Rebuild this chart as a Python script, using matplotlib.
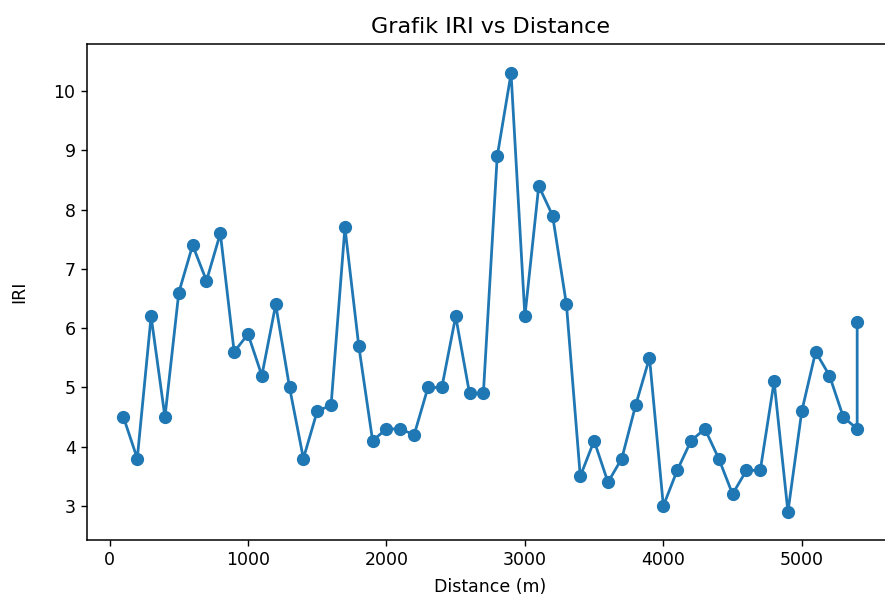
import matplotlib
matplotlib.use('Agg')
import matplotlib.pyplot as plt

# jarak tiap titik pengukuran (m), titik terakhir diukur dua kali di 5400
distance = [100, 200, 300, 400, 500, 600, 700, 800, 900, 1000,
            1100, 1200, 1300, 1400, 1500, 1600, 1700, 1800, 1900, 2000,
            2100, 2200, 2300, 2400, 2500, 2600, 2700, 2800, 2900, 3000,
            3100, 3200, 3300, 3400, 3500, 3600, 3700, 3800, 3900, 4000,
            4100, 4200, 4300, 4400, 4500, 4600, 4700, 4800, 4900, 5000,
            5100, 5200, 5300, 5400, 5400]
iri = [4.5, 3.8, 6.2, 4.5, 6.6, 7.4, 6.8, 7.6, 5.6, 5.9,
       5.2, 6.4, 5.0, 3.8, 4.6, 4.7, 7.7, 5.7, 4.1, 4.3,
       4.3, 4.2, 5.0, 5.0, 6.2, 4.9, 4.9, 8.9, 10.3, 6.2,
       8.4, 7.9, 6.4, 3.5, 4.1, 3.4, 3.8, 4.7, 5.5, 3.0,
       3.6, 4.1, 4.3, 3.8, 3.2, 3.6, 3.6, 5.1, 2.9, 4.6,
       5.6, 5.2, 4.5, 4.3, 6.1]
yticks = [3, 4, 5, 6, 7, 8, 9, 10]
xticks = [0, 1000, 2000, 3000, 4000, 5000]

plt.rcParams['font.size'] = 12.5

fig = plt.figure(figsize=(8.85, 5.99), dpi=100)
# kanan sengaja melewati batas gambar (aslinya terpotong)
ax = fig.add_axes([0.098, 0.098, 0.912, 0.829])

ax.plot(distance, iri, marker='o', color='#1f77b4', linewidth=2, markersize=8.5)
ax.set_xticks(xticks)
ax.set_yticks(yticks)
ax.set_ylim(2.42, 10.8)
ax.tick_params(length=4.5, width=1)
for s in ax.spines.values():
    s.set_linewidth(1.1)
ax.spines['right'].set_visible(False)

ax.set_title('Grafik IRI vs Distance', fontsize=16, pad=8)
ax.set_xlabel('Distance (m)', labelpad=6)
ax.set_ylabel('IRI', labelpad=18)

fig.savefig('out.png', dpi=100)
